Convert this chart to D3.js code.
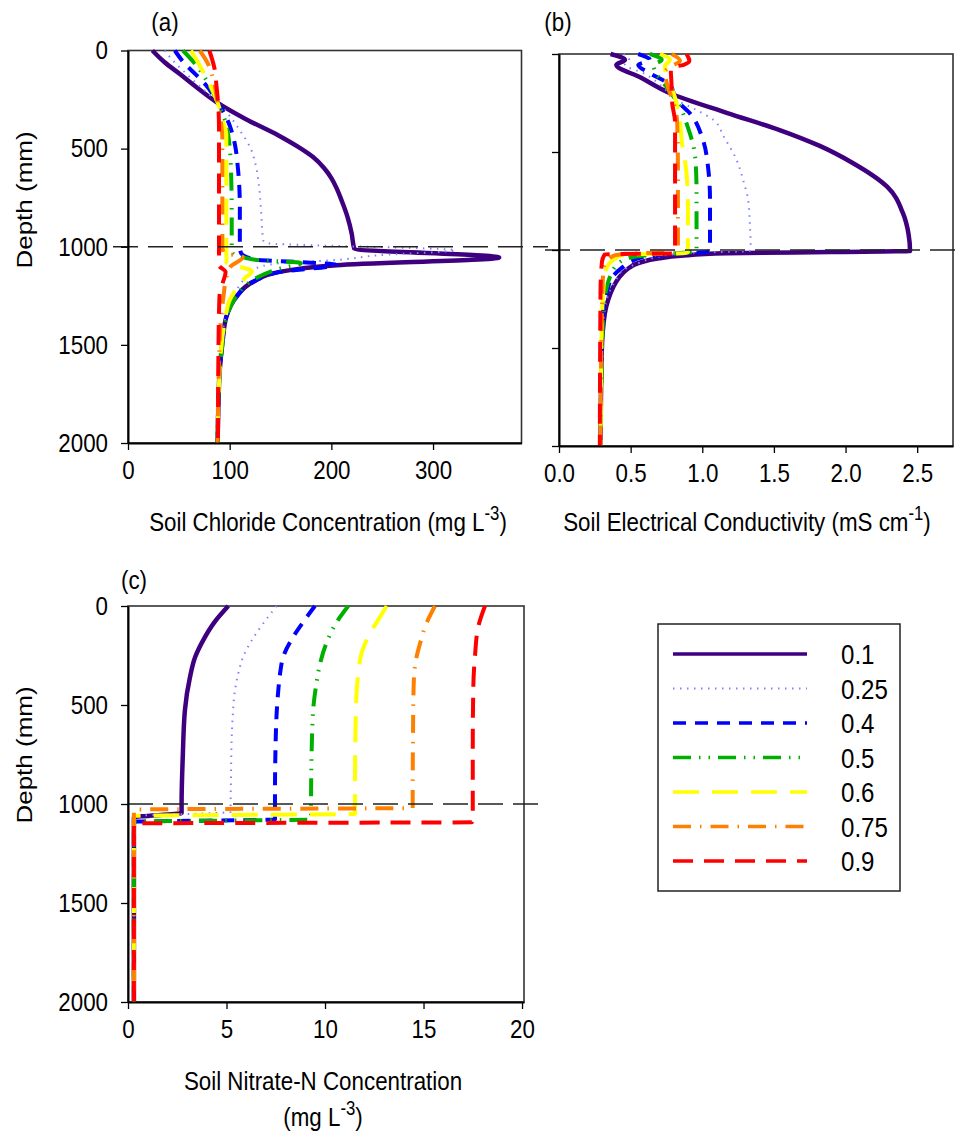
<!DOCTYPE html>
<html>
<head>
<meta charset="utf-8">
<script src="https://cdn.jsdelivr.net/npm/d3@7"></script>
<style>
  html, body { margin: 0; padding: 0; background: #fff; }
  svg { display: block; font-family: "Liberation Sans", Arial, sans-serif; }
</style>
</head>
<body>
<svg id="chart" width="959" height="1135"></svg>
<script>
// ---- series (water-content fractions) ----
const seriesLabels = ["0.1", "0.25", "0.4", "0.5", "0.6", "0.75", "0.9"];

// ---- tick values ----
const depthTicks = [0, 500, 1000, 1500, 2000];
const chlorideTicks = [0, 100, 200, 300];
const ecTicks = [0, 0.5, 1.0, 1.5, 2.0, 2.5];
const nitrateTicks = [0, 5, 10, 15, 20];
const interfaceDepth = 1000;

// ---- (a) soil chloride, [depth mm, mg L-3] ----
const chloride01 = [[0,24],[60,36],[120,51],[190,68],[263,87],[350,116],[433,148],[490,167],[543,182],[600,193],[650,200],[700,205],[763,210],[850,216],[933,220],[1009,222.5],[1055,365],[1094,205],[1128,149],[1179,123],[1256,106.5],[1357,96.7],[1491,92.8],[1644,90],[1800,89],[2000,88]];
const chloride025 = [[0,36],[50,44],[102,54],[180,70],[263,88],[314,97],[407,110],[492,120],[594,126],[696,129],[830,131],[967,133],[981,136],[1018,322],[1043,247],[1069,201],[1084,149],[1110,126],[1180,112],[1260,103],[1357,96],[1500,92],[1700,89],[2000,88]];
const chloride04 = [[0,46],[68,56],[119,66],[178,77],[263,88],[356,98],[475,105],[594,108],[800,110],[1000,110],[1030,111],[1066,125],[1078,170],[1092,205],[1128,150],[1179,123],[1256,106.5],[1357,96.7],[1491,92.8],[1700,89.5],[2000,88]];
const chloride05 = [[0,54],[68,66],[150,77],[263,88],[350,95],[492,100],[650,101.5],[800,102],[1000,102],[1030,103],[1066,125],[1083,170],[1110,150],[1154,128],[1200,115],[1256,106],[1357,97],[1491,93],[1700,89.5],[2000,88]];
const chloride06 = [[0,62],[119,75],[263,88],[350,93],[430,96.7],[600,96.7],[800,96.7],[1000,96.7],[1080,97],[1125,122],[1160,115],[1205,108],[1272,100],[1357,96],[1500,92],[1700,89.5],[2000,88]];
const chloride075 = [[0,70.6],[68,78.7],[150,84],[263,88],[350,91],[450,92.8],[700,92.8],[1000,92.8],[1030,94],[1052,113],[1100,101],[1150,97],[1250,94],[1400,91],[1600,89.5],[2000,88]];
const chloride09 = [[0,80],[90,85],[180,87],[300,89],[400,89.5],[700,89.5],[1000,89.5],[1094,89.5],[1129,96],[1186,93],[1250,90],[1500,89],[2000,88.5]];

// ---- (b) soil electrical conductivity, [depth mm, mS cm-1] ----
const ec01 = [[0,0.36],[30,0.46],[55,0.40],[120,0.57],[200,0.775],[300,1.17],[388,1.54],[469,1.82],[556,2.05],[677,2.29],[811,2.40],[920,2.44],[1005,2.45],[1010,1.9],[1017,1.17],[1030,0.85],[1042,0.70],[1065,0.56],[1102,0.47],[1140,0.42],[1187,0.38],[1250,0.345],[1323,0.32],[1527,0.298],[2000,0.29]];
const ec025 = [[0,0.45],[30,0.49],[55,0.46],[98,0.59],[180,0.74],[235,0.82],[286,0.96],[337,1.08],[422,1.15],[541,1.24],[643,1.285],[745,1.32],[881,1.333],[983,1.338],[1005,1.33],[1015,0.9],[1040,0.66],[1060,0.58],[1102,0.45],[1150,0.40],[1200,0.36],[1300,0.32],[1500,0.30],[2000,0.29]];
const ec04 = [[0,0.553],[30,0.635],[56,0.553],[98,0.635],[158,0.775],[235,0.82],[303,0.914],[439,1.005],[575,1.04],[745,1.054],[949,1.054],[1005,1.054],[1012,1.0],[1022,0.75],[1035,0.6],[1060,0.5],[1090,0.44],[1140,0.37],[1200,0.34],[1300,0.31],[1500,0.298],[2000,0.29]];
const ec05 = [[0,0.635],[30,0.717],[56,0.66],[100,0.68],[168,0.75],[269,0.845],[354,0.89],[524,0.95],[694,0.96],[949,0.96],[1005,0.96],[1018,0.8],[1028,0.6],[1045,0.47],[1080,0.40],[1130,0.36],[1200,0.33],[1300,0.31],[2000,0.29]];
const ec06 = [[0,0.705],[30,0.775],[60,0.74],[120,0.75],[200,0.80],[300,0.835],[439,0.856],[609,0.89],[779,0.90],[983,0.90],[1010,0.90],[1016,0.88],[1020,0.65],[1025,0.45],[1040,0.40],[1070,0.35],[1120,0.32],[1200,0.31],[1400,0.298],[2000,0.29]];
const ec075 = [[0,0.786],[35,0.845],[60,0.79],[90,0.74],[170,0.76],[250,0.80],[350,0.825],[600,0.83],[1000,0.83],[1012,0.82],[1018,0.5],[1030,0.38],[1060,0.33],[1100,0.31],[1300,0.30],[2000,0.29]];
const ec09 = [[0,0.89],[35,0.91],[55,0.87],[70,0.78],[150,0.785],[250,0.79],[350,0.81],[1000,0.81],[1017,0.81],[1022,0.32],[1060,0.30],[1200,0.29],[2000,0.285]];

// ---- (c) soil nitrate-N, [depth mm, mg L-3] ----
const nitrate01 = [[0,5.09],[80,4.4],[172,3.82],[260,3.4],[357,3.15],[525,2.89],[761,2.78],[1000,2.72],[1045,2.72],[1068,0.3],[1400,0.3],[2000,0.3]];
const nitrate025 = [[0,7.55],[87,6.87],[170,6.3],[256,5.85],[340,5.6],[424,5.43],[550,5.32],[677,5.26],[850,5.23],[1000,5.21],[1040,5.21],[1062,0.3],[1400,0.3],[2000,0.3]];
const nitrate04 = [[0,9.49],[80,8.9],[155,8.39],[256,7.88],[340,7.72],[424,7.63],[627,7.51],[965,7.46],[1000,7.46],[1078,7.46],[1090,0.3],[1400,0.3],[2000,0.3]];
const nitrate05 = [[0,11.18],[80,10.6],[180,10.1],[290,9.75],[400,9.55],[510,9.41],[700,9.33],[1000,9.29],[1078,9.29],[1090,0.3],[1400,0.3],[2000,0.3]];
const nitrate06 = [[0,13.13],[70,12.7],[138,12.28],[240,11.85],[340,11.69],[510,11.57],[931,11.52],[1000,11.52],[1050,11.52],[1060,0.3],[1400,0.3],[2000,0.3]];
const nitrate075 = [[0,15.58],[104,15.08],[180,14.85],[256,14.65],[350,14.52],[510,14.48],[1000,14.45],[1020,14.45],[1028,0.3],[1400,0.3],[2000,0.3]];
const nitrate09 = [[0,18.12],[104,17.78],[256,17.61],[400,17.53],[700,17.5],[1000,17.5],[1050,17.5],[1092,17.45],[1098,0.3],[1400,0.3],[2000,0.3]];

const chlorideSeries = [chloride01, chloride025, chloride04, chloride05, chloride06, chloride075, chloride09];
const ecSeries = [ec01, ec025, ec04, ec05, ec06, ec075, ec09];
const nitrateSeries = [nitrate01, nitrate025, nitrate04, nitrate05, nitrate06, nitrate075, nitrate09];

// ---- line styles per series ----
const lineStyles = [
  { color: "#3f007f", width: 4.5, dash: null },
  { color: "#8080ff", width: 2,   dash: "1.5,5.5" },
  { color: "#0000ff", width: 4,   dash: "13,9" },
  { color: "#00b000", width: 4,   dash: "18,8,1.5,8,1.5,8" },
  { color: "#ffff00", width: 4,   dash: "26,13" },
  { color: "#ff8000", width: 4,   dash: "18,9,1.5,9" },
  { color: "#ff0000", width: 4,   dash: "20,11" }
];

const FONT = 26;      // base font size
const SX = 0.86;      // horizontal text compression

const svg = d3.select("#chart");

function hText(g, x, y, anchor, size, parts) {
  // parts: array of [string, isSuperscript]
  const grp = g.append("g").attr("transform", `translate(${x},${y}) scale(${SX},1)`);
  const t = grp.append("text").attr("text-anchor", anchor).attr("font-size", size).attr("fill", "#000");
  let raised = false;
  parts.forEach(([s, sup]) => {
    let dy = 0;
    if (sup && !raised) { dy = -size * 0.42; raised = true; }
    else if (!sup && raised) { dy = size * 0.42; raised = false; }
    t.append("tspan")
      .attr("font-size", sup ? size * 0.75 : size)
      .attr("dy", dy)
      .text(s);
  });
  return t;
}

function panel(cfg) {
  const g = svg.append("g");
  const x = d3.scaleLinear().domain(cfg.xDomain).range(cfg.xRange);
  const y = d3.scaleLinear().domain([0, 2000]).range(cfg.yRange);

  // frame
  g.append("rect")
    .attr("x", cfg.xRange[0]).attr("y", cfg.yRange[0])
    .attr("width", cfg.xRange[1] - cfg.xRange[0])
    .attr("height", cfg.yRange[1] - cfg.yRange[0])
    .attr("fill", "none").attr("stroke", "#333").attr("stroke-width", 1.6);

  // curves
  const line = d3.line().x(d => x(d[1])).y(d => y(d[0])).curve(d3.curveMonotoneY);
  cfg.series.forEach((s, i) => {
    const st = lineStyles[i];
    g.append("path").datum(s)
      .attr("d", line)
      .attr("fill", "none")
      .attr("stroke", st.color)
      .attr("stroke-width", st.width)
      .attr("stroke-dasharray", st.dash)
      .attr("stroke-linejoin", "round");
  });

  // interface line
  g.append("line")
    .attr("x1", cfg.dashX[0]).attr("x2", cfg.dashX[1])
    .attr("y1", y(interfaceDepth)).attr("y2", y(interfaceDepth))
    .attr("stroke", "#222").attr("stroke-width", 1.3).attr("stroke-dasharray", "25,10");

  // x axis
  const xa = g.append("g").attr("transform", `translate(0,${cfg.yRange[1]})`)
    .call(d3.axisBottom(x).tickValues(cfg.xTicks).tickFormat(cfg.xFormat).tickSize(7).tickSizeOuter(0).tickPadding(11));
  xa.select(".domain").attr("stroke", "#000").attr("stroke-width", 2);
  xa.selectAll(".tick line").attr("stroke", "#000").attr("stroke-width", 1.3);
  xa.selectAll("text").attr("font-size", FONT).attr("font-family", null).attr("fill", "#000")
    .attr("transform", `scale(${SX},1)`);

  // y axis
  const ya = g.append("g").attr("transform", `translate(${cfg.xRange[0]},0)`)
    .call(d3.axisLeft(y).tickValues(depthTicks).tickSize(7).tickSizeOuter(0)
      .tickFormat(cfg.yLabels ? d3.format("d") : () => ""));
  ya.select(".domain").attr("stroke", "#000").attr("stroke-width", 2);
  ya.selectAll(".tick line").attr("stroke", "#000").attr("stroke-width", 1.3);
  ya.selectAll("text").attr("font-size", FONT).attr("font-family", null).attr("fill", "#000")
    .attr("x", 0).attr("transform", `translate(-20,0) scale(${SX},1)`);

  // panel tag
  hText(g, cfg.tag[1], cfg.tag[2], "middle", FONT, [[cfg.tag[0], false]]);
  return { g, x, y };
}

panel({
  series: chlorideSeries, xDomain: [0, 387], xRange: [128, 521.5], yRange: [50.5, 443],
  xTicks: chlorideTicks, xFormat: d3.format("d"), yLabels: true,
  dashX: [113, 548], tag: ["(a)", 165, 31]
});
panel({
  series: ecSeries, xDomain: [0, 2.75], xRange: [559, 953], yRange: [54, 446],
  xTicks: ecTicks, xFormat: d3.format(".1f"), yLabels: false,
  dashX: [545, 959], tag: ["(b)", 558, 31]
});
panel({
  series: nitrateSeries, xDomain: [0, 20.1], xRange: [128, 524], yRange: [606, 1002],
  xTicks: nitrateTicks, xFormat: d3.format("d"), yLabels: true,
  dashX: [128, 548], tag: ["(c)", 134, 589]
});

// axis titles
hText(svg, 328, 531, "middle", FONT, [["Soil Chloride Concentration (mg L", false], ["-3", true], [")", false]]);
hText(svg, 747, 531, "middle", FONT, [["Soil Electrical Conductivity (mS cm", false], ["-1", true], [")", false]]);
hText(svg, 323, 1090, "middle", FONT, [["Soil Nitrate-N Concentration", false]]);
hText(svg, 323, 1126, "middle", FONT, [["(mg L", false], ["-3", true], [")", false]]);

function depthTitle(cx, cy) {
  svg.append("g").attr("transform", `translate(${cx},${cy}) rotate(-90) scale(1,${SX})`)
    .append("text").attr("text-anchor", "middle").attr("font-size", FONT).attr("fill", "#000")
    .text("Depth (mm)");
}
depthTitle(32, 200);
depthTitle(32, 755);

// legend
const legend = svg.append("g");
legend.append("rect").attr("x", 658).attr("y", 624).attr("width", 242).attr("height", 267)
  .attr("fill", "#fff").attr("stroke", "#222").attr("stroke-width", 1.5);
const legendY = d3.scalePoint().domain(seriesLabels).range([654, 861]);
seriesLabels.forEach((lab, i) => {
  const st = lineStyles[i];
  legend.append("line")
    .attr("x1", 673).attr("x2", 807)
    .attr("y1", legendY(lab)).attr("y2", legendY(lab))
    .attr("stroke", st.color).attr("stroke-width", st.width >= 4 ? 3.5 : 2)
    .attr("stroke-dasharray", st.dash);
  hText(legend, 841, legendY(lab) + 10, "start", 28, [[lab, false]]);
});
</script>
</body>
</html>
